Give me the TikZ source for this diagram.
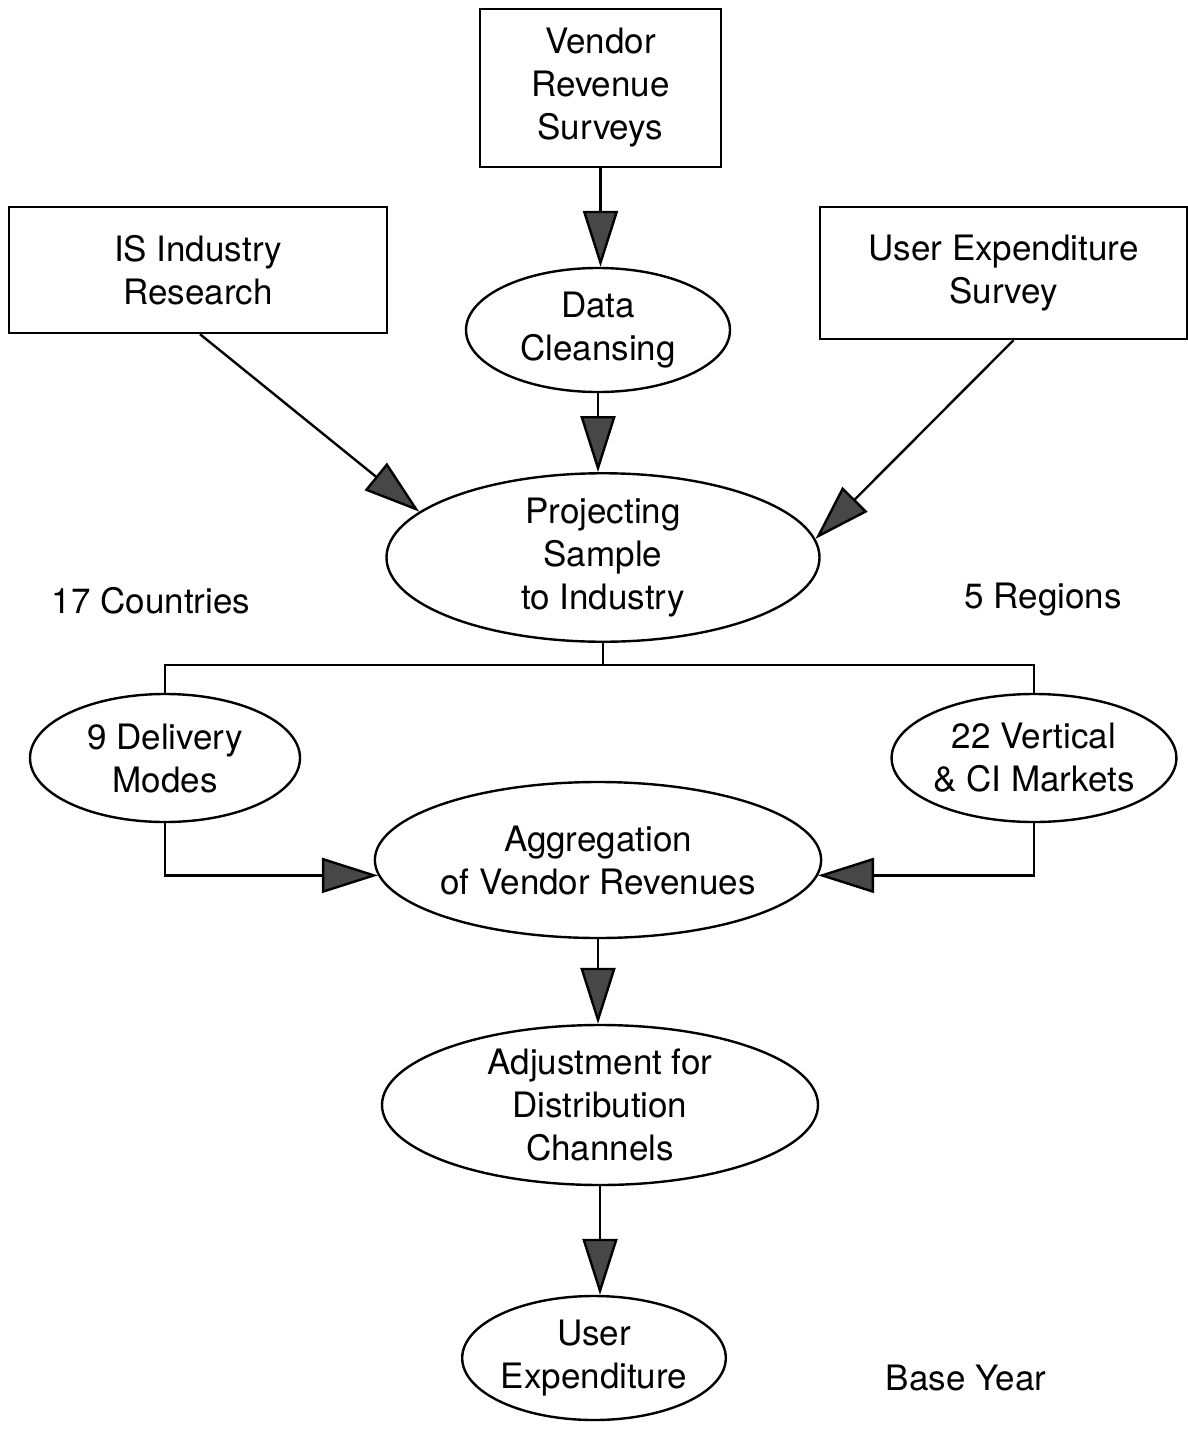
\documentclass[tikz,border=0pt]{standalone}
\usepackage{fontspec}
\setmainfont{TeX Gyre Heros}
\usetikzlibrary{shapes.geometric,arrows.meta}
\begin{document}
\begin{tikzpicture}[x=1pt,y=-1pt,
  every node/.style={font=\fontsize{35}{43}\selectfont, align=center, inner sep=0pt},
  box/.style={draw, line width=2.4pt, rectangle},
  oval/.style={draw, line width=2.4pt, ellipse},
  link/.style={line width=2.4pt},
  arr/.style={line width=2.4pt, -{Triangle[length=56pt,width=35pt,fill=black!72]}},
]
\useasboundingbox (0,0) rectangle (1188,1435);

% source boxes
\node[box, minimum width=241pt, minimum height=158pt] (vendor) at (600.5,88) {Vendor\\Revenue\\Surveys};
\node[box, minimum width=378pt, minimum height=126pt] (isr) at (198,270) {IS Industry\\Research};
\node[box, minimum width=367pt, minimum height=132pt] (user) at (1003.5,273) {User Expenditure\\Survey};

% processing steps
\node[oval, minimum width=264pt, minimum height=124pt] (clean) at (598,330) {Data\\Cleansing};
\node[oval, minimum width=433pt, minimum height=157pt] (proj) at (603,557.5) {Projecting\\Sample\\to Industry};
\node[oval, minimum width=270pt, minimum height=128pt] (deliv) at (165,758) {9 Delivery\\Modes};
\node[oval, minimum width=270pt, minimum height=128pt] (vert) at (1034,758) {22 Vertical\\\& CI Markets};
\node[oval, minimum width=440pt, minimum height=156pt] (agg) at (598,860) {Aggregation\\of Vendor Revenues};
\node[oval, minimum width=436pt, minimum height=160pt] (adj) at (600,1105) {Adjustment for\\Distribution\\Channels};
\node[oval, minimum width=262pt, minimum height=124pt] (uexp) at (594,1358) {User\\Expenditure};

% side labels
\node (countries) at (151,601) {17 Countries};
\node (regions) at (1043,600) {5 Regions};
\node (base) at (966,1378) {Base Year};

% connectors
\coordinate (bus) at (600,665);
\draw[arr] (vendor.south) -- (vendor.south |- clean.north);
\draw[arr] (clean.south) -- (clean.south |- proj.north);
\draw[arr] ([xshift=2pt]isr.south) -- (proj.166);
\draw[arr] ([xshift=10pt]user.south) -- (proj.5);
\draw[link] (proj.south) -- (proj.south |- bus);
\draw[link] (deliv.north) |- (bus) -| (vert.north);
\draw[arr] (deliv.south) |- (agg.184);
\draw[arr] (vert.south) |- (agg.-4);
\draw[arr] (agg.south) -- (agg.south |- adj.north);
\draw[arr] (adj.south) -- (adj.south |- uexp.north);
\end{tikzpicture}
\end{document}
